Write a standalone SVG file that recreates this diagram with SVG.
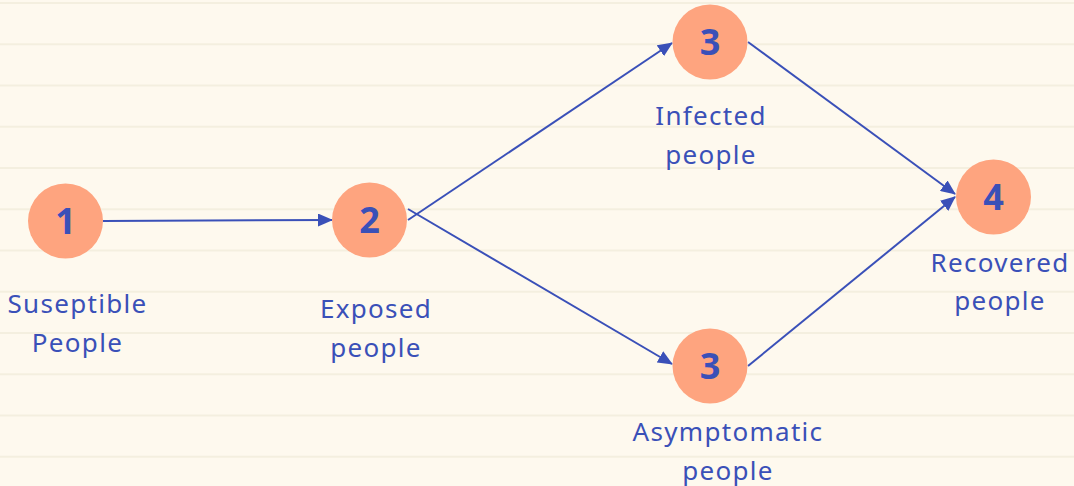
<svg xmlns="http://www.w3.org/2000/svg" width="1074" height="486" viewBox="0 0 1074 486">
<defs>
<style>
.bg{fill:#fef9ee}
.rule{stroke:#f4efdf;stroke-width:2}
.node circle{fill:#fea47f}
.num{font-family:"Noto Sans",sans-serif;font-weight:bold;font-size:36px;fill:#3a50b8;text-anchor:middle}
.lbl{font-family:"Noto Sans",sans-serif;font-size:26px;fill:#3a50b8;text-anchor:middle;letter-spacing:1.3px}
.edge{stroke:#3a50b8;stroke-width:2;fill:none;marker-end:url(#ah)}
</style>
<marker id="ah" viewBox="0 0 15 13" refX="14" refY="6.5" markerWidth="15" markerHeight="13" markerUnits="userSpaceOnUse" orient="auto">
<path d="M0,0 L15,6.5 L0,13 Z" fill="#3a50b8"/>
</marker>
</defs>
<rect class="bg" x="0" y="0" width="1074" height="486"/>
<g id="rules">
<line class="rule" x1="0" y1="3" x2="1074" y2="3"/>
<line class="rule" x1="0" y1="44.3" x2="1074" y2="44.3"/>
<line class="rule" x1="0" y1="85.5" x2="1074" y2="85.5"/>
<line class="rule" x1="0" y1="126.8" x2="1074" y2="126.8"/>
<line class="rule" x1="0" y1="168" x2="1074" y2="168"/>
<line class="rule" x1="0" y1="209.3" x2="1074" y2="209.3"/>
<line class="rule" x1="0" y1="250.5" x2="1074" y2="250.5"/>
<line class="rule" x1="0" y1="291.8" x2="1074" y2="291.8"/>
<line class="rule" x1="0" y1="333" x2="1074" y2="333"/>
<line class="rule" x1="0" y1="374.3" x2="1074" y2="374.3"/>
<line class="rule" x1="0" y1="415.5" x2="1074" y2="415.5"/>
<line class="rule" x1="0" y1="456.8" x2="1074" y2="456.8"/>
</g>
<g id="connectors">
<line class="edge" x1="103" y1="221" x2="332" y2="220"/>
<line class="edge" x1="408" y1="220" x2="672" y2="43"/>
<line class="edge" x1="408" y1="209" x2="672" y2="364"/>
<line class="edge" x1="748" y1="42" x2="955" y2="194"/>
<line class="edge" x1="748" y1="366" x2="955" y2="197"/>
</g>
<g id="node1" class="node">
<circle cx="65.5" cy="221" r="37.5"/>
<text class="num" x="65.5" y="234">1</text>
<text class="lbl" x="77.5" y="313">Suseptible</text>
<text class="lbl" x="77.5" y="352">People</text>
</g>
<g id="node2" class="node">
<circle cx="369.5" cy="220" r="37.5"/>
<text class="num" x="369.5" y="233">2</text>
<text class="lbl" x="376" y="318">Exposed</text>
<text class="lbl" x="376" y="357">people</text>
</g>
<g id="node3a" class="node">
<circle cx="710" cy="42" r="37.5"/>
<text class="num" x="710" y="55">3</text>
<text class="lbl" x="711" y="125">Infected</text>
<text class="lbl" x="711" y="164">people</text>
</g>
<g id="node3b" class="node">
<circle cx="710" cy="366" r="37.5"/>
<text class="num" x="710" y="379">3</text>
<text class="lbl" x="728" y="441">Asymptomatic</text>
<text class="lbl" x="728" y="480">people</text>
</g>
<g id="node4" class="node">
<circle cx="993.5" cy="197" r="37.5"/>
<text class="num" x="993.5" y="210">4</text>
<text class="lbl" x="1000" y="272">Recovered</text>
<text class="lbl" x="1000" y="310">people</text>
</g>
</svg>
